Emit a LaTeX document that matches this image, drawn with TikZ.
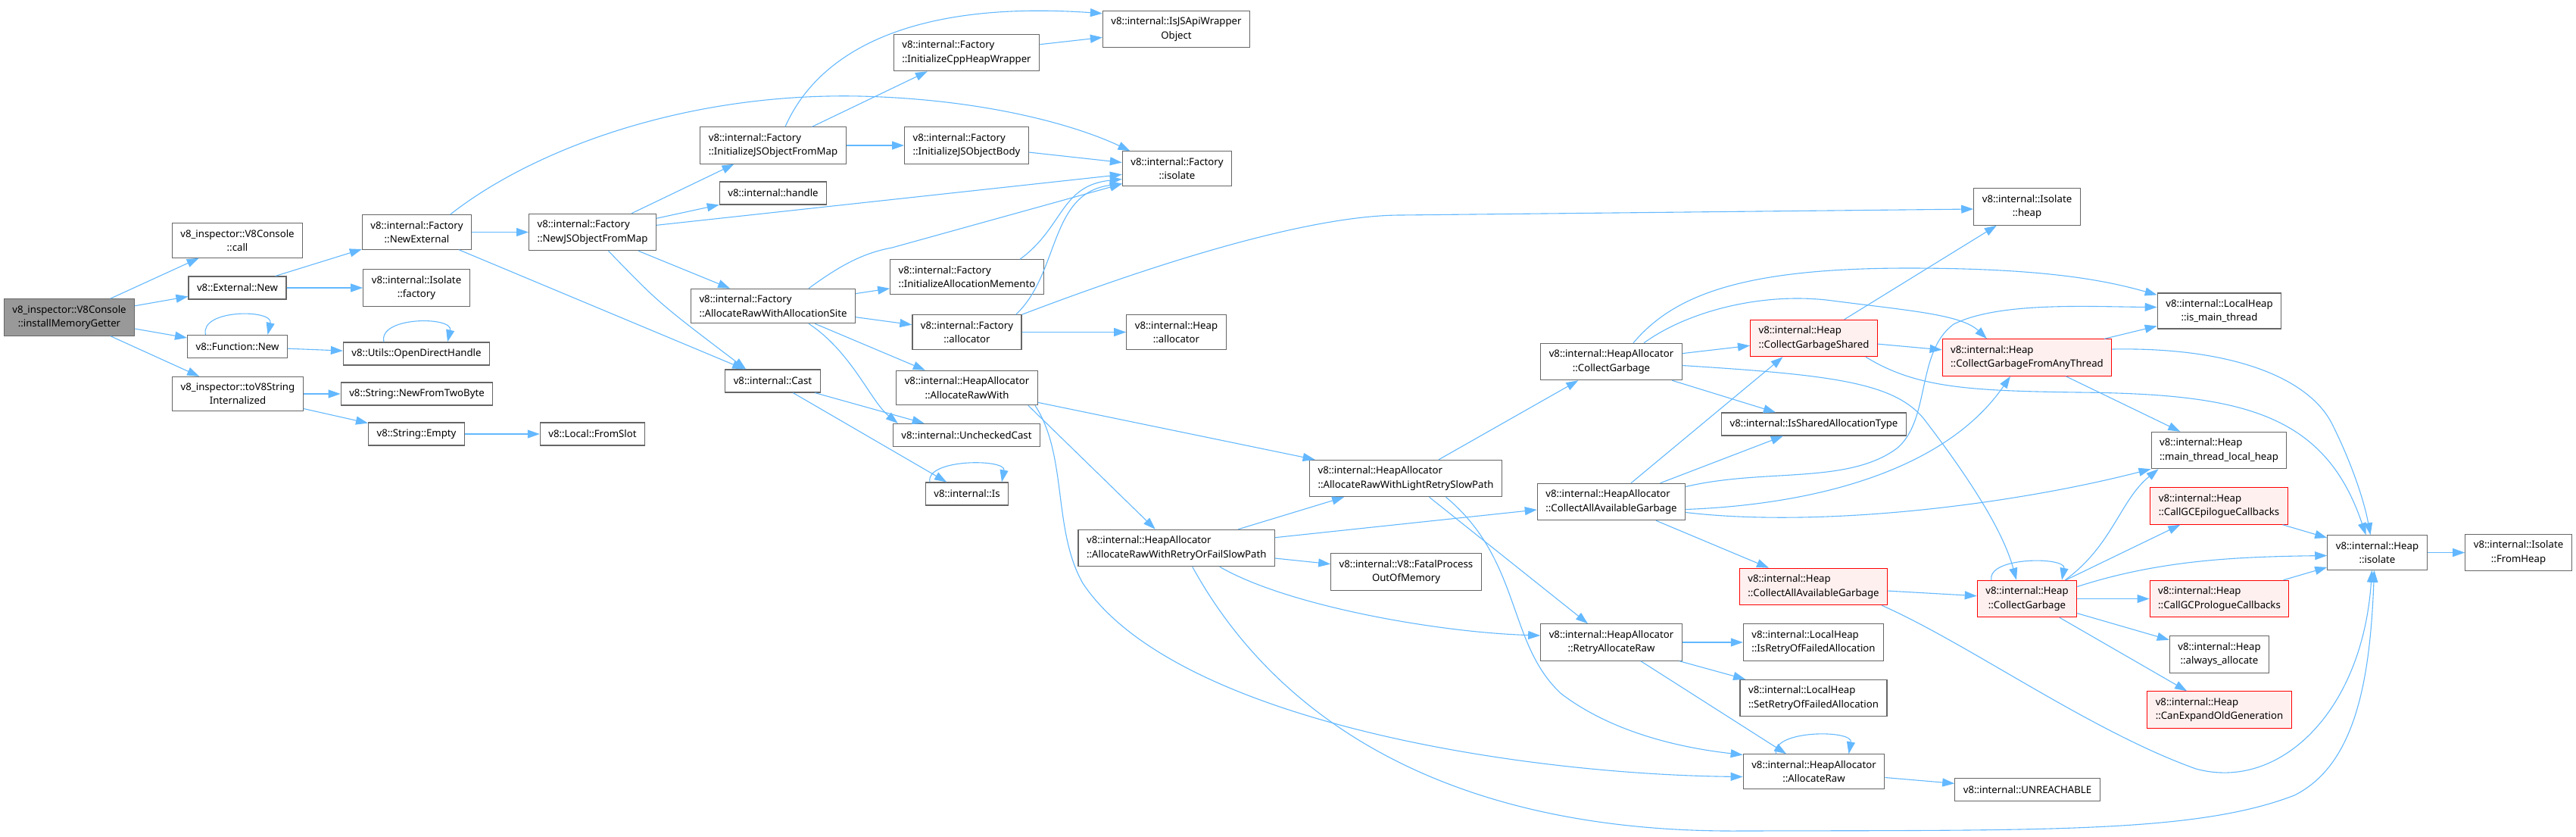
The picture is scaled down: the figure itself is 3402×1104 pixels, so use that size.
\documentclass[tikz,border=0pt]{standalone}
\usepackage{fontspec}
\setmainfont{Noto Sans}
\usetikzlibrary{arrows.meta,calc}

\definecolor{edgeblue}{HTML}{63B8FF}
\definecolor{boxgray}{HTML}{666666}
\definecolor{rootgray}{HTML}{999999}
\definecolor{hotfill}{HTML}{FFF0F0}

\tikzset{
  fn/.style={draw=boxgray, line width=0.6pt, fill=white, align=center,
             font=\fontsize{6.6}{9.15}\selectfont,
             inner xsep=5.5pt, inner ysep=4.2pt, minimum height=15pt},
  fnl/.style={fn, align=left},
  rootfn/.style={fn, fill=rootgray},
  hot/.style={draw=red, fill=hotfill},
  call/.style={draw=edgeblue, line width=0.55pt, -{Triangle[length=8pt,width=5.5pt]}},
}

\begin{document}
\begin{tikzpicture}[x=0.5pt, y=-0.5pt]
  \useasboundingbox (0,0) rectangle (3402,1104);

  \node (root) [rootfn] at (91.5,419) {v8\_inspector::V8Console\\::installMemoryGetter};
  \node (call) [fn] at (313.5,317.5) {v8\_inspector::V8Console\\::call};
  \node (extnew) [fn] at (313.5,380) {v8::External::New};
  \node (fnnew) [fn] at (313.5,457.5) {v8::Function::New};
  \node (tov8) [fn] at (314,520) {v8\_inspector::toV8String\\Internalized};
  \node (newext) [fn] at (550.5,306.5) {v8::internal::Factory\\::NewExternal};
  \node (isofactory) [fn] at (550,380) {v8::internal::Isolate\\::factory};
  \node (opendh) [fn] at (550,467) {v8::Utils::OpenDirectHandle};
  \node (newtwo) [fn] at (550.5,520) {v8::String::NewFromTwoByte};
  \node (strempty) [fn] at (550,573) {v8::String::Empty};
  \node (fromslot) [fn] at (782.5,573) {v8::Local::FromSlot};
  \node (newjs) [fnl] at (782.5,306.5) {v8::internal::Factory\\::NewJSObjectFromMap};
  \node (isapi) [fn] at (1553.5,38.5) {v8::internal::IsJSApiWrapper\\Object};
  \node (initcpp) [fnl] at (1276.5,69.5) {v8::internal::Factory\\::InitializeCppHeapWrapper};
  \node (initjsmap) [fnl] at (1021,192) {v8::internal::Factory\\::InitializeJSObjectFromMap};
  \node (initbody) [fnl] at (1276.5,192) {v8::internal::Factory\\::InitializeJSObjectBody};
  \node (fisolate) [fn] at (1554.5,222.5) {v8::internal::Factory\\::isolate};
  \node (handle) [fn] at (1021,255) {v8::internal::handle};
  \node (initmemento) [fnl] at (1277,365.5) {v8::internal::Factory\\::InitializeAllocationMemento};
  \node (allocsite) [fnl] at (1021,404) {v8::internal::Factory\\::AllocateRawWithAllocationSite};
  \node (fallocator) [fn] at (1277,438.5) {v8::internal::Factory\\::allocator};
  \node (hallocator) [fn] at (1553.5,438.5) {v8::internal::Heap\\::allocator};
  \node (cast) [fn] at (1020.5,503) {v8::internal::Cast};
  \node (arwith) [fn] at (1277,512) {v8::internal::HeapAllocator\\::AllocateRawWith};
  \node (unchecked) [fn] at (1276.5,574.5) {v8::internal::UncheckedCast};
  \node (is) [fn] at (1277,652) {v8::internal::Is};
  \node (retryfail) [fnl] at (1553.75,723.5) {v8::internal::HeapAllocator\\::AllocateRawWithRetryOrFailSlowPath};
  \node (lightretry) [fnl] at (1856.5,631.5) {v8::internal::HeapAllocator\\::AllocateRawWithLightRetrySlowPath};
  \node (fatal) [fn] at (1857,755) {v8::internal::V8::FatalProcess\\OutOfMemory};
  \node (hacg) [fn] at (2128,477.5) {v8::internal::HeapAllocator\\::CollectGarbage};
  \node (hacaag) [fnl] at (2128,662.5) {v8::internal::HeapAllocator\\::CollectAllAvailableGarbage};
  \node (retryraw) [fn] at (2128,848) {v8::internal::HeapAllocator\\::RetryAllocateRaw};
  \node (cgshared) [fnl, hot] at (2395.5,446.5) {v8::internal::Heap\\::CollectGarbageShared};
  \node (issharedtype) [fn] at (2395.5,560) {v8::internal::IsSharedAllocationType};
  \node (heapcaag) [fnl, hot] at (2395,774.5) {v8::internal::Heap\\::CollectAllAvailableGarbage};
  \node (isretry) [fnl] at (2395,848) {v8::internal::LocalHeap\\::IsRetryOfFailedAllocation};
  \node (setretry) [fnl] at (2395,921.5) {v8::internal::LocalHeap\\::SetRetryOfFailedAllocation};
  \node (allocraw) [fn] at (2395.5,1018.5) {v8::internal::HeapAllocator\\::AllocateRaw};
  \node (isoheap) [fn] at (2677,273) {v8::internal::Isolate\\::heap};
  \node (cgfat) [fnl, hot] at (2677,472) {v8::internal::Heap\\::CollectGarbageFromAnyThread};
  \node (heapcg) [fn, hot] at (2677,790.5) {v8::internal::Heap\\::CollectGarbage};
  \node (unreachable) [fn] at (2677.5,1042.5) {v8::internal::UNREACHABLE};
  \node (ismain) [fn] at (2931,410.5) {v8::internal::LocalHeap\\::is\_main\_thread};
  \node (mtlh) [fnl] at (2930.5,594.5) {v8::internal::Heap\\::main\_thread\_local\_heap};
  \node (epilogue) [fnl, hot] at (2930.5,668) {v8::internal::Heap\\::CallGCEpilogueCallbacks};
  \node (prologue) [fnl, hot] at (2931,790.5) {v8::internal::Heap\\::CallGCPrologueCallbacks};
  \node (alwaysalloc) [fn] at (2931,864) {v8::internal::Heap\\::always\_allocate};
  \node (canexpand) [fnl, hot] at (2931,937) {v8::internal::Heap\\::CanExpandOldGeneration};
  \node (hisolate) [fn] at (3139.5,729.5) {v8::internal::Heap\\::isolate};
  \node (fromheap) [fn] at (3326,729.5) {v8::internal::Isolate\\::FromHeap};

  \draw[call] (root) -- (call);
  \draw[call] (root) -- (extnew);
  \draw[call] (root) -- (fnnew);
  \draw[call] (root) -- (tov8);
  \draw[call] (extnew) -- (newext);
  \draw[call] (extnew) -- (isofactory);
  \draw[call] ($(fnnew.north)+(-42,0)$) .. controls +(-8,-34) and +(8,-34) .. ($(fnnew.north)+(40,0)$);
  \draw[call] (fnnew) -- (opendh);
  \draw[call] ($(opendh.north)+(-43,0)$) .. controls +(-8,-34) and +(8,-34) .. ($(opendh.north)+(41,0)$);
  \draw[call] (tov8) -- (newtwo);
  \draw[call] (tov8) -- (strempty);
  \draw[call] (strempty) -- (fromslot);

  \draw[call] (newext) -- (newjs);
  \draw[call] ($(newext.north)+(44,0)$) .. controls (700,200) and (900,122) .. (1136,127)
              .. controls (1300,131) and (1420,165) .. ($(fisolate.north)+(-62,0)$);
  \draw[call] (newext) -- (cast);
  \draw[call] (newjs) -- (initjsmap);
  \draw[call] (newjs) -- (handle);
  \draw[call] (newjs) -- (fisolate);
  \draw[call] (newjs) -- (allocsite);
  \draw[call] ($(newjs.south)+(21,0)$) .. controls (870,400) .. ($(cast.north west)+(28,0)$);

  \draw[call] ($(initjsmap.north)+(16,0)$) .. controls (1080,70) and (1200,0) .. ($(isapi.north west)+(0,4)$);
  \draw[call] (initjsmap) -- (initcpp);
  \draw[call] (initjsmap) -- (initbody);
  \draw[call] (initcpp) -- (isapi);
  \draw[call] (initbody) -- (fisolate);
  \draw[call] ($(allocsite.north)+(47,0)$) .. controls (1110,350) and (1140,334) .. (1178,327)
              -- ($(fisolate.south west)+(0,-3)$);
  \draw[call] (allocsite) -- (initmemento);
  \draw[call] (allocsite) -- (fallocator);
  \draw[call] (allocsite) -- (arwith);
  \draw[call] ($(allocsite.south)+(47,0)$) .. controls (1125,465) and (1150,530) .. ($(unchecked.north west)+(7,0)$);
  \draw[call] ($(initmemento.north)+(70,0)$) .. controls (1405,300) and (1400,245) .. ($(fisolate.west)+(0,14)$);
  \draw[call] ($(fallocator.north east)+(-8,0)$) .. controls (1400,360) and (1385,255) .. ($(fisolate.west)+(0,20)$);
  \draw[call] (fallocator) -- (hallocator);
  \draw[call] (fallocator.north east) .. controls (1600,320) and (1760,284) .. (1850,284)
              -- ($(isoheap.west)+(0,3)$);
  \draw[call] (cast) -- (unchecked);
  \draw[call] (cast) -- (is);
  \draw[call] ($(is.north)+(-49,0)$) .. controls +(-6,-31) and +(6,-31) .. ($(is.north)+(46,0)$);

  \draw[call] (arwith) -- (lightretry);
  \draw[call] ($(arwith.south east)+(-13,0)$) -- ($(retryfail.north)+(-28,0)$);
  \draw[call] ($(arwith.south east)+(-4,0)$) .. controls (1410,600) and (1390,700) .. (1430,770)
              .. controls (1550,950) and (2000,1022) .. ($(allocraw.west)+(0,7)$);
  \draw[call] (retryfail) -- (lightretry);
  \draw[call] (retryfail) -- (hacaag);
  \draw[call] (retryfail) -- (fatal);
  \draw[call] ($(retryfail.south)+(57,0)$) .. controls (1700,800) and (1900,835) .. ($(retryraw.west)+(0,-9)$);
  \draw[call] ($(retryfail.south)+(21,0)$) .. controls (1680,940) and (1900,1100) .. (2300,1097)
              .. controls (2700,1096) and (2900,1100) .. (3030,1050)
              .. controls (3110,1010) and (3130,900) .. ($(hisolate.south)+(-4,0)$);
  \draw[call] (lightretry) -- (hacg);
  \draw[call] (lightretry) -- (retryraw);
  \draw[call] ($(lightretry.south)+(53,0)$) .. controls (2010,740) and (1990,850) .. (2062,916)
              .. controls (2120,960) and (2200,985) .. ($(allocraw.west)+(0,-22)$);

  \draw[call] (hacg) -- (cgshared);
  \draw[call] (hacg) -- (issharedtype);
  \draw[call] ($(hacg.north)+(29,0)$) .. controls (2210,390) and (2300,354) .. (2520,354)
              .. controls (2700,354) and (2780,370) .. ($(ismain.north west)+(0,3)$);
  \draw[call] ($(hacg.north)+(43,0)$) .. controls (2230,410) and (2330,385) .. (2420,397)
              .. controls (2520,410) and (2590,415) .. ($(cgfat.north)+(-53,0)$);
  \draw[call] ($(hacg.east)+(0,5)$) .. controls (2420,495) and (2500,505) .. (2540,552)
              .. controls (2600,630) and (2645,700) .. ($(heapcg.north)+(-14,0)$);
  \draw[call] ($(hacaag.north)+(26,0)$) -- ($(cgshared.south)+(-41,0)$);
  \draw[call] (hacaag) -- (issharedtype);
  \draw[call] ($(hacaag.east)+(0,-20)$) .. controls (2330,618) and (2440,640) .. (2505,592)
              .. controls (2550,555) and (2530,465) .. (2580,428)
              .. controls (2640,398) and (2760,405) .. ($(ismain.west)+(0,-5)$);
  \draw[call] ($(hacaag.east)+(0,10)$) .. controls (2400,666) and (2570,620) .. ($(cgfat.south)+(-22,0)$);
  \draw[call] ($(hacaag.east)+(0,14)$) .. controls (2400,697) and (2650,668) .. (mtlh.south west);
  \draw[call] (hacaag) -- (heapcaag);
  \draw[call] (retryraw) -- (isretry);
  \draw[call] (retryraw) -- (setretry);
  \draw[call] (retryraw) -- (allocraw);
  \draw[call] ($(allocraw.north)+(-50,0)$) .. controls +(-6,-32) and +(6,-32) .. ($(allocraw.north)+(46,0)$);
  \draw[call] (allocraw) -- (unreachable);

  \draw[call] (cgshared) -- (isoheap);
  \draw[call] (cgshared) -- (cgfat);
  \draw[call] ($(cgshared.south east)+(-16,0)$) .. controls (2530,512) and (2600,516) .. (2745,518)
              .. controls (2960,520) and (3070,545) .. ($(hisolate.north)+(-15,0)$);
  \draw[call] (heapcaag) -- (heapcg);
  \draw[call] ($(heapcaag.south east)+(-8,0)$) .. controls (2600,850) and (2760,965) .. (2900,1015)
              .. controls (3010,1045) and (3120,940) .. ($(hisolate.south)+(-7,0)$);
  \draw[call] (cgfat) -- (ismain);
  \draw[call] (cgfat) -- (mtlh);
  \draw[call] ($(cgfat.east)+(0,-11)$) .. controls (2950,458) and (3050,500) .. (3080,560)
              .. controls (3105,610) and (3122,660) .. ($(hisolate.north)+(-9,0)$);
  \draw[call] ($(heapcg.north)+(-47,0)$) .. controls +(-6,-31) and +(6,-31) .. ($(heapcg.north)+(46,0)$);
  \draw[call] ($(heapcg.north east)+(-16,0)$) .. controls (2790,720) and (2800,660) .. ($(mtlh.south west)+(10,0)$);
  \draw[call] (heapcg) -- (epilogue);
  \draw[call] ($(heapcg.east)+(0,-16)$) .. controls (2850,740) and (2950,735) .. ($(hisolate.west)+(0,4)$);
  \draw[call] (heapcg) -- (prologue);
  \draw[call] (heapcg) -- (alwaysalloc);
  \draw[call] (heapcg) -- (canexpand);
  \draw[call] (epilogue) -- (hisolate);
  \draw[call] (prologue) -- (hisolate);
  \draw[call] (hisolate) -- (fromheap);
\end{tikzpicture}
\end{document}
